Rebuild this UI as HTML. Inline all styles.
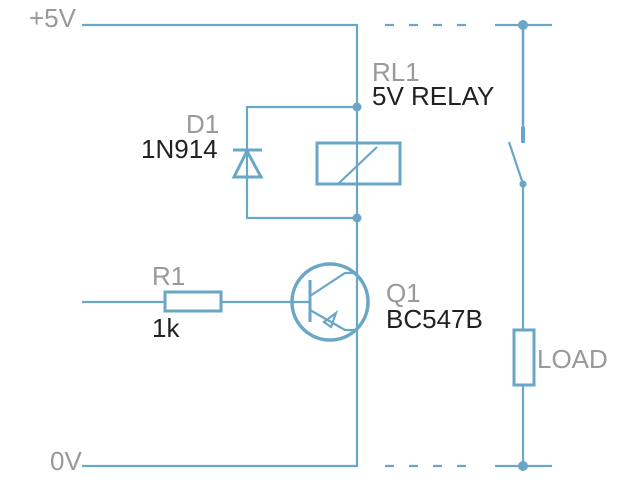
<!DOCTYPE html>
<html><head><style>
html,body{margin:0;padding:0;background:#fff;}
svg{display:block}
text{font-family:"Liberation Sans",sans-serif;font-size:26px}
.g{fill:#999}.k{fill:#222}
</style></head><body>
<svg width="619" height="479" viewBox="0 0 619 479" xmlns="http://www.w3.org/2000/svg">
<g stroke="#6aa7c6" fill="none" stroke-width="2.2">
<path d="M82 25H357V466H82"/>
<path d="M385 25H468M385 466H468" stroke-dasharray="9,15"/>
<path d="M495 25H552M495 466H552"/>
<path d="M523 25V130" stroke-width="2.5"/>
<path d="M523 127V143" stroke-width="4"/>
<path d="M509 142L523 184M523 184V330M523 385V466"/>
<rect x="514" y="330" width="20" height="55" stroke-width="3"/>
<path d="M357 107H247V218H357"/>
<path d="M233 150H262" stroke-width="3"/>
<path d="M247 151L234 177H261Z" stroke-width="3"/>
<rect x="317" y="143" width="83" height="41" stroke-width="3"/>
<path d="M338 184L377 147"/>
<path d="M82 302H165M221 302H310"/>
<rect x="165" y="292" width="56" height="19" stroke-width="3"/>
<circle cx="330" cy="302" r="38" stroke-width="3.5"/>
<path d="M310 280V322" stroke-width="3"/>
<path d="M310 296L345 273H358M310 310L345 330H358"/>
<path d="M336 313L331 327L324 322Z" stroke-width="2.2"/>
</g>
<g fill="#6aa7c6">
<circle cx="357" cy="107" r="4.5"/><circle cx="357" cy="218" r="4.5"/>
<circle cx="523" cy="25" r="5"/><circle cx="523" cy="466" r="5"/>
<circle cx="523" cy="184" r="3.5"/>
</g>
<text x="29" y="27" class="g">+5V</text>
<text x="50" y="470" class="g">0V</text>
<text x="372" y="81" class="g">RL1</text>
<text x="372" y="105" class="k">5V RELAY</text>
<text x="186" y="133" class="g">D1</text>
<text x="141" y="158" class="k">1N914</text>
<text x="152" y="285" class="g">R1</text>
<text x="152" y="337" class="k">1k</text>
<text x="386" y="302" class="g">Q1</text>
<text x="386" y="328" class="k">BC547B</text>
<text x="537" y="368" class="g">LOAD</text>
</svg>
</body></html>
